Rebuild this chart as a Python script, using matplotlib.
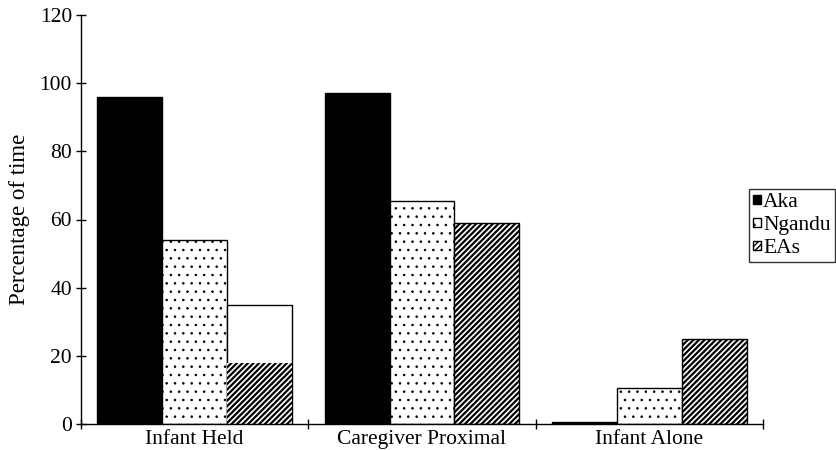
import matplotlib
matplotlib.use("Agg")
import matplotlib.pyplot as plt
import matplotlib.patches as mpatches
import numpy as np

# ── Data ──────────────────────────────────────────────────────────────────────
categories = ["Infant Held", "Caregiver Proximal", "Infant Alone"]
groups = ["Aka", "Ngandu", "EAs"]
aka = [96, 97, 0.5]
ngandu = [54, 65.5, 10.5]
eas = [35, 59, 25]
eas_held_part = 18      # hatched part of the EAs "Infant Held" bar

# ── Style ─────────────────────────────────────────────────────────────────────
plt.rcParams["font.family"] = ["Liberation Serif", "DejaVu Serif"]
DOTS, STRIPES = "..", "//////"
DOT_LW, STRIPE_LW = 0.6, 1.6

fig = plt.figure(figsize=(8.37, 4.5), dpi=100)
ax = fig.add_axes([81 / 837, 1 - 424 / 450, (763 - 81) / 837, (424 - 15) / 450])

x = np.arange(len(categories))
w = 0.285

ax.bar(x - w, aka, w, color="black", edgecolor="black", linewidth=1)
with plt.rc_context({"hatch.linewidth": DOT_LW}):
    ax.bar(x, ngandu, w, color="white", edgecolor="black", hatch=DOTS, linewidth=1)

with plt.rc_context({"hatch.linewidth": STRIPE_LW}):
    # EAs: first category shows an outlined bar with only the lower part hatched
    ax.bar(x[0] + w, eas[0], w, color="white", edgecolor="black", linewidth=1)
    ax.bar(x[0] + w, eas_held_part, w, color="white", edgecolor="black",
           hatch=STRIPES, linewidth=0)
    ax.bar(x[1:] + w, eas[1:], w, color="white", edgecolor="black",
           hatch=STRIPES, linewidth=1)

# ── Axes ──────────────────────────────────────────────────────────────────────
ax.set_xlim(-0.5, len(categories) - 0.5)
ax.set_ylim(0, 120)
ax.set_yticks(range(0, 121, 20))
ax.set_xticks(np.arange(-0.5, len(categories), 1.0))
ax.set_xticklabels([])
ax.set_xticks(x, minor=True)
ax.set_xticklabels(categories, minor=True, fontsize=15.5)
ax.tick_params(axis="x", which="minor", length=0, pad=4)
ax.tick_params(axis="both", which="major", direction="inout", length=7,
               width=1, labelsize=15.5, pad=3)
ax.set_ylabel("Percentage of time", fontsize=16.5, labelpad=7)

for s in ["top", "right"]:
    ax.spines[s].set_visible(False)
for s in ["left", "bottom"]:
    ax.spines[s].set_linewidth(1)

# ── Legend ────────────────────────────────────────────────────────────────────
with plt.rc_context({"hatch.linewidth": 1.0}):
    handles = [
        mpatches.Patch(facecolor="black", edgecolor="black", label=groups[0]),
        mpatches.Patch(facecolor="white", edgecolor="black", hatch=DOTS, label=groups[1]),
        mpatches.Patch(facecolor="white", edgecolor="black", hatch=STRIPES, label=groups[2]),
    ]
leg = fig.legend(handles=handles, loc="upper left",
                 bbox_to_anchor=(749 / 837, 1 - 189 / 450),
                 fontsize=15.5, frameon=True, fancybox=False, borderaxespad=0,
                 borderpad=0.2, handlelength=0.35, handleheight=0.3,
                 handletextpad=0.1, labelspacing=0.18)
leg.get_frame().set_edgecolor("black")
leg.get_frame().set_linewidth(1)

fig.savefig("out.png", dpi=100)
